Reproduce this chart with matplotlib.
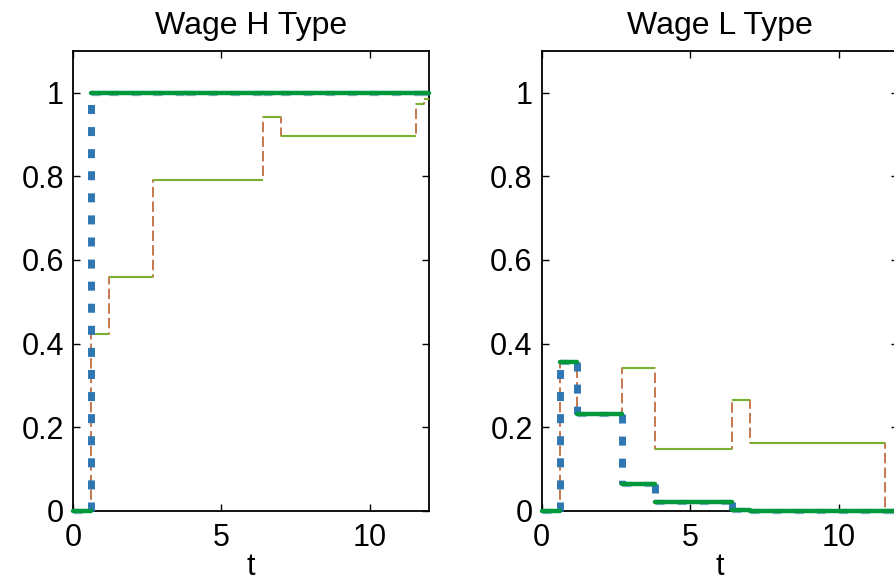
import numpy as np
import matplotlib
matplotlib.use("Agg")
import matplotlib.pyplot as plt

plt.rcParams['font.family'] = ['Liberation Sans', 'DejaVu Sans']
plt.rcParams['lines.scale_dashes'] = False

# Interval edges in t shared by all series
t_edges = [0.0, 0.6, 1.2, 2.7, 3.8, 6.4, 7.0, 11.56, 11.82, 12.0]

# Wage H type: equilibrium (thick) and alternative path (thin)
h_thick = [0.0, 1.0, 1.0, 1.0, 1.0, 1.0, 1.0, 1.0, 1.0]
h_thin = [0.0, 0.424, 0.559, 0.791, 0.791, 0.941, 0.896, 0.974, 0.984]

# Wage L type
l_thick = [0.0, 0.355, 0.232, 0.063, 0.022, 0.002, 0.0, 0.0, 0.0]
l_thin = [0.0, 0.355, 0.232, 0.342, 0.148, 0.266, 0.162, 0.0, 0.0]

titles = ["Wage H Type", "Wage L Type"]
x_ticks = [0, 5, 10]
y_ticks = [0, 0.2, 0.4, 0.6, 0.8, 1]
y_tick_labels = ["0", "0.2", "0.4", "0.6", "0.8", "1"]

BLUE = '#2f77b3'
GREEN_THICK = '#00983a'
GREEN_THIN = '#78b030'
BROWN = '#b8531e'

W, H = 894, 582
fig = plt.figure(figsize=(W / 100, H / 100), dpi=100)

ax_w = (429.3 - 73) / W
ax_h = (510.7 - 51) / H
ax_b = (H - 510.7) / H
lefts = [73 / W, 541.7 / W]

BLUE_DASH = (0, (6.5, 9.4))


def draw_panel(ax, thick, thin, title):
    edges = np.array(t_edges)
    thick = np.array(thick)
    thin = np.array(thin)
    # thin path: dashed risers, solid horizontal levels
    ax.step(edges, np.append(thin, thin[-1]), where='post', color=BROWN,
            lw=1.1, ls=(0, (7.5, 3)), clip_on=False, zorder=2)
    ax.hlines(thin, edges[:-1], edges[1:], colors=GREEN_THIN, lw=1.5,
              clip_on=False, zorder=3)
    # thick path: dashed blue risers and levels beneath heavy green levels
    ax.vlines(edges[1:-1], thick[:-1], thick[1:], colors=BLUE, lw=5.0,
              linestyles=[BLUE_DASH], clip_on=False, zorder=4)
    ax.hlines(thick, edges[:-1], edges[1:], colors=BLUE, lw=3.8,
              linestyles=[BLUE_DASH], alpha=0.55, clip_on=False, zorder=4)
    lc = ax.hlines(thick, edges[:-1], edges[1:], colors=GREEN_THICK, lw=3.2,
                   clip_on=False, zorder=5)
    lc.set_capstyle('round')

    ax.set_xlim(0, 12)
    ax.set_ylim(0, 1.1)
    ax.set_xticks(x_ticks)
    ax.set_xticklabels([str(v) for v in x_ticks])
    ax.set_yticks(y_ticks)
    ax.set_yticklabels(y_tick_labels)
    ax.tick_params(direction='in', length=5, width=1.0, labelsize=22,
                   top=True, right=True, pad=6.5, colors='black')
    ax.tick_params(axis='x', pad=9)
    for sp in ax.spines.values():
        sp.set_linewidth(1.3)
    ax.set_xlabel('t', fontsize=22, labelpad=-1)
    ax.set_title(title, fontsize=23, pad=12)


for left, thick, thin, title in zip(lefts, [h_thick, l_thick],
                                    [h_thin, l_thin], titles):
    ax = fig.add_axes([left, ax_b, ax_w, ax_h])
    draw_panel(ax, thick, thin, title)

fig.savefig('out.png', dpi=100)
